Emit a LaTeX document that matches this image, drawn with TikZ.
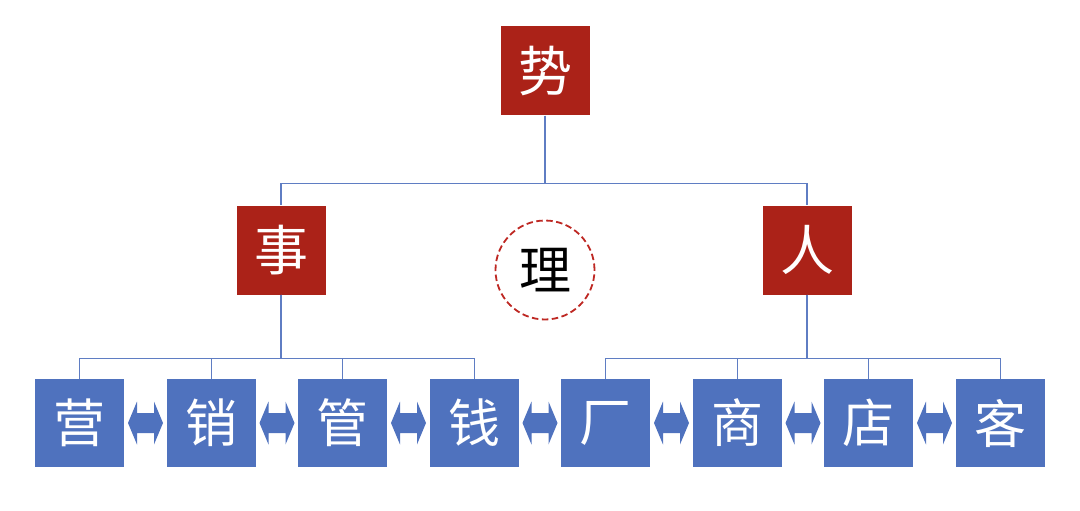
\documentclass[tikz,border=0pt]{standalone}
\usepackage{fontspec}
\newfontfamily\cjk{Noto Sans CJK SC}
\usetikzlibrary{calc}
\definecolor{boxred}{RGB}{171,34,24}
\definecolor{boxblue}{RGB}{79,114,190}
\definecolor{linkblue}{RGB}{95,125,195}
\definecolor{dashred}{RGB}{190,40,35}
\tikzset{
  redbox/.style={fill=boxred,minimum width=89pt,minimum height=89pt,inner sep=0pt,text=white,font=\cjk\fontsize{54}{54}\selectfont},
  bluebox/.style={fill=boxblue,minimum width=89pt,minimum height=88pt,inner sep=0pt,text=white,font=\cjk\fontsize{52}{52}\selectfont},
  link/.style={draw=linkblue,line width=1.5pt},
  dblarr/.pic={\fill[boxblue] (-17.5,0) -- (-8.5,21.5) -- (-8.5,10) -- (8.5,10) -- (8.5,21.5) -- (17.5,0) -- (8.5,-21.5) -- (8.5,-10) -- (-8.5,-10) -- (-8.5,-21.5) -- cycle;}
}
\begin{document}
\begin{tikzpicture}[x=1pt,y=-1pt]
\useasboundingbox (0,0) rectangle (1080,511);
\node[redbox] (shi) at (545,71) {势};
\node[redbox] (shiq) at (281,250) {事};
\node[redbox] (ren) at (807,250) {人};
\node[circle,draw=dashred,dash pattern=on 6.5pt off 3.5pt,line width=1.8pt,minimum size=99pt,inner sep=0pt,font=\cjk\fontsize{52}{52}\selectfont] (li) at (545,270) {理};
\node[bluebox] (b1) at (79.5,423) {营};
\node[bluebox] (b2) at (211.5,423) {销};
\node[bluebox] (b3) at (342.5,423) {管};
\node[bluebox] (b4) at (474.5,423) {钱};
\node[bluebox] (b5) at (605.5,423) {厂};
\node[bluebox] (b6) at (737.5,423) {商};
\node[bluebox] (b7) at (868.5,423) {店};
\node[bluebox] (b8) at (1000.5,423) {客};
% tree
\draw[link] (shi.south) -- ++(0,68) -| (shiq.north);
\draw[link] (shi.south) -- ++(0,68) -| (ren.north);
\foreach \b in {b1,b2,b3,b4}{\draw[link] (shiq.south) -- ++(0,64) -| (\b.north);}
\foreach \b in {b5,b6,b7,b8}{\draw[link] (ren.south) -- ++(0,64) -| (\b.north);}
% double arrows
\foreach \a/\c in {b1/b2,b2/b3,b3/b4,b4/b5,b5/b6,b6/b7,b7/b8}{
  \coordinate (m\a) at ($(\a.east)!0.5!(\c.west)$);
  \pic at (m\a) {dblarr};
}
\end{tikzpicture}
\end{document}
